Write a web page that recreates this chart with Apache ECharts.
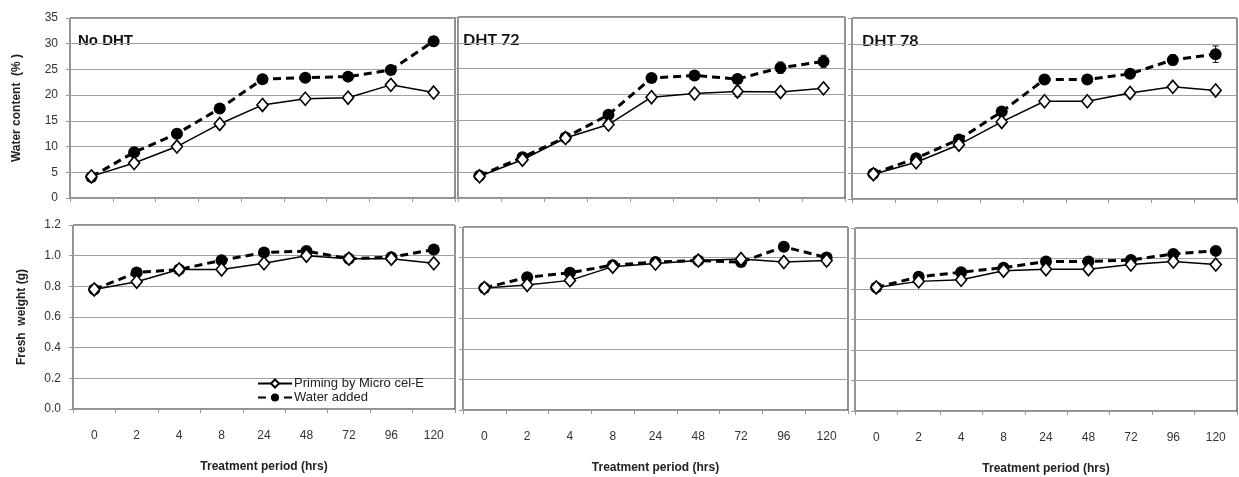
<!DOCTYPE html>
<html>
<head>
<meta charset="utf-8">
<script src="https://cdn.jsdelivr.net/npm/echarts@6/dist/echarts.min.js"></script>
<style>
  html, body { margin: 0; padding: 0; background: #fff; }
  #chart { width: 1239px; height: 477px; }
</style>
</head>
<body>
<div id="chart"></div>
<script>
// 处理时间 (hrs)
const hours = ['0', '2', '4', '8', '24', '48', '72', '96', '120']
const panelNames = ['No DHT', 'DHT 72', 'DHT 78']

// Water content (%)
const wcPriming = [
  [4.2, 6.8, 10.0, 14.4, 18.1, 19.3, 19.5, 22.0, 20.5],
  [4.2, 7.4, 11.6, 14.2, 19.5, 20.2, 20.6, 20.5, 21.2],
  [4.8, 7.1, 10.5, 14.9, 18.9, 18.9, 20.5, 21.7, 21.0]
]
const wcWater = [
  [4.1, 8.9, 12.5, 17.4, 23.1, 23.4, 23.6, 24.9, 30.5],
  [4.3, 7.9, 11.7, 16.1, 23.2, 23.7, 23.0, 25.2, 26.4],
  [4.9, 7.9, 11.5, 16.9, 23.1, 23.1, 24.2, 26.9, 28.0]
]
const wcPrimingErr = [
  [0.3, 0.3, 0.3, 0.3, 0.3, 0.3, 0.3, 0.3, 0.3],
  [0.3, 0.5, 0.3, 0.3, 0.3, 0.6, 1.0, 0.4, 0.4],
  [0.3, 0.3, 0.3, 0.3, 0.3, 0.3, 0.3, 0.3, 0.3]
]
const wcWaterErr = [
  [0.4, 0.5, 0.5, 0.5, 0.5, 0.5, 0.5, 0.6, 0.9],
  [0.4, 0.5, 0.5, 0.6, 0.6, 0.6, 0.5, 1.1, 1.2],
  [0.4, 0.5, 0.5, 0.5, 0.5, 0.5, 0.5, 1.0, 1.6]
]

// Fresh weight (g)
const fwPriming = [
  [0.78, 0.83, 0.91, 0.91, 0.95, 1.00, 0.98, 0.98, 0.95],
  [0.80, 0.82, 0.85, 0.94, 0.96, 0.98, 0.99, 0.97, 0.98],
  [0.81, 0.85, 0.86, 0.92, 0.93, 0.93, 0.96, 0.98, 0.96]
]
const fwWater = [
  [0.78, 0.89, 0.91, 0.97, 1.02, 1.03, 0.98, 0.99, 1.04],
  [0.80, 0.87, 0.90, 0.95, 0.97, 0.98, 0.97, 1.07, 1.00],
  [0.81, 0.88, 0.91, 0.94, 0.98, 0.98, 0.99, 1.03, 1.05]
]
const fwPrimingErr = [
  [0.01, 0.01, 0.01, 0.01, 0.01, 0.01, 0.02, 0.01, 0.01],
  [0.01, 0.01, 0.01, 0.01, 0.01, 0.01, 0.01, 0.01, 0.03],
  [0.01, 0.01, 0.01, 0.01, 0.01, 0.01, 0.01, 0.01, 0.01]
]
const fwWaterErr = [
  [0.01, 0.01, 0.01, 0.01, 0.01, 0.01, 0.03, 0.02, 0.02],
  [0.01, 0.01, 0.01, 0.01, 0.01, 0.01, 0.01, 0.02, 0.02],
  [0.01, 0.01, 0.01, 0.01, 0.01, 0.01, 0.01, 0.01, 0.02]
]

const chart = echarts.init(document.getElementById('chart'))

const font = 'Liberation Sans, Arial, sans-serif'
const grids = [
  { left: 70, top: 18, width: 385, height: 180 },
  { left: 458, top: 17, width: 387, height: 181 },
  { left: 852, top: 18, width: 385, height: 181 },
  { left: 73, top: 225, width: 382, height: 184 },
  { left: 463, top: 227, width: 385, height: 183 },
  { left: 855, top: 228, width: 382, height: 183 }
]

const xAxes = grids.map((g, i) => ({
  type: 'category',
  gridIndex: i,
  data: hours,
  boundaryGap: true,
  axisLine: { lineStyle: { color: '#999', width: 1 } },
  axisTick: { show: true, length: 4, lineStyle: { color: '#999' } },
  axisLabel: {
    show: i >= 3,
    margin: 21,
    fontFamily: font,
    fontSize: 12,
    color: '#333'
  },
  name: i >= 3 ? 'Treatment period (hrs)' : '',
  nameLocation: 'middle',
  nameGap: 52,
  nameTextStyle: { fontFamily: font, fontSize: 12, fontWeight: 'bold', color: '#222' }
}))

const yAxes = grids.map((g, i) => {
  const top = i < 3
  return {
    type: 'value',
    gridIndex: i,
    min: 0,
    max: top ? 35 : 1.2,
    interval: top ? 5 : 0.2,
    axisLine: { show: true, lineStyle: { color: '#999' } },
    axisTick: { show: true, length: 4, lineStyle: { color: '#999' } },
    splitLine: { show: true, lineStyle: { color: '#a0a0a0', width: 1 } },
    axisLabel: {
      show: i === 0 || i === 3,
      margin: 12,
      fontFamily: font,
      fontSize: 12,
      color: '#333',
      formatter: v => top ? v : v.toFixed(1)
    },
    name: i === 0 ? 'Water content  (% )' : (i === 3 ? 'Fresh  weight (g)' : ''),
    nameLocation: 'middle',
    nameRotate: 90,
    nameGap: i === 0 ? 47 : 45,
    nameTextStyle: { fontFamily: font, fontSize: 12, fontWeight: 'bold', color: '#222' }
  }
})

const series = []
const errBar = (gi, vals, errs) => ({
  type: 'custom',
  xAxisIndex: gi,
  yAxisIndex: gi,
  silent: true,
  z: 1,
  data: vals.map((v, k) => [k, v - errs[k], v + errs[k]]),
  renderItem: (params, api) => {
    const lo = api.coord([api.value(0), api.value(1)])
    const hi = api.coord([api.value(0), api.value(2)])
    const w = 3
    return {
      type: 'group',
      children: [
        { type: 'line', shape: { x1: lo[0], y1: lo[1], x2: hi[0], y2: hi[1] }, style: { stroke: '#111', lineWidth: 1 } },
        { type: 'line', shape: { x1: lo[0] - w, y1: lo[1], x2: lo[0] + w, y2: lo[1] }, style: { stroke: '#111', lineWidth: 1 } },
        { type: 'line', shape: { x1: hi[0] - w, y1: hi[1], x2: hi[0] + w, y2: hi[1] }, style: { stroke: '#111', lineWidth: 1 } }
      ]
    }
  }
})

const addPanel = (gi, priming, water, pErr, wErr) => {
  series.push(errBar(gi, priming, pErr))
  series.push(errBar(gi, water, wErr))
  series.push({
    name: 'Water added',
    type: 'line',
    xAxisIndex: gi,
    yAxisIndex: gi,
    data: water,
    symbol: 'circle',
    symbolSize: 12,
    z: 3,
    lineStyle: { color: '#000', width: 3, type: [8, 5] },
    itemStyle: { color: '#000' }
  })
  series.push({
    name: 'Priming by Micro cel-E',
    type: 'line',
    xAxisIndex: gi,
    yAxisIndex: gi,
    data: priming,
    symbol: 'diamond',
    symbolSize: [11, 13],
    z: 4,
    lineStyle: { color: '#000', width: 1.5 },
    itemStyle: { color: '#fff', borderColor: '#000', borderWidth: 1.6 }
  })
}

for (let p = 0; p < 3; p++) {
  addPanel(p, wcPriming[p], wcWater[p], wcPrimingErr[p], wcWaterErr[p])
  addPanel(p + 3, fwPriming[p], fwWater[p], fwPrimingErr[p], fwWaterErr[p])
}

const option = {
  backgroundColor: '#fff',
  animation: false,
  grid: grids.map(g => ({ ...g, show: true, borderColor: '#222', borderWidth: 1, backgroundColor: 'transparent' })),
  xAxis: xAxes,
  yAxis: yAxes,
  legend: {
    data: ['Priming by Micro cel-E', 'Water added'],
    orient: 'vertical',
    left: 252,
    top: 372,
    itemGap: 1,
    itemWidth: 34,
    itemHeight: 10,
    textStyle: { fontFamily: font, fontSize: 13, color: '#222', padding: [0, 0, 0, -3] }
  },
  graphic: [
    { type: 'text', left: 78, top: 33, style: { text: panelNames[0], font: 'bold 15px Liberation Sans, Arial, sans-serif', fill: '#111' } },
    { type: 'text', left: 463, top: 32, style: { text: panelNames[1], font: 'bold 16px Lato, sans-serif', fill: '#111' } },
    { type: 'text', left: 862, top: 33, style: { text: panelNames[2], font: 'bold 16px Lato, sans-serif', fill: '#111' } }
  ],
  series: series
}

chart.setOption(option)
window.addEventListener('resize', () => chart.resize())
</script>
</body>
</html>
